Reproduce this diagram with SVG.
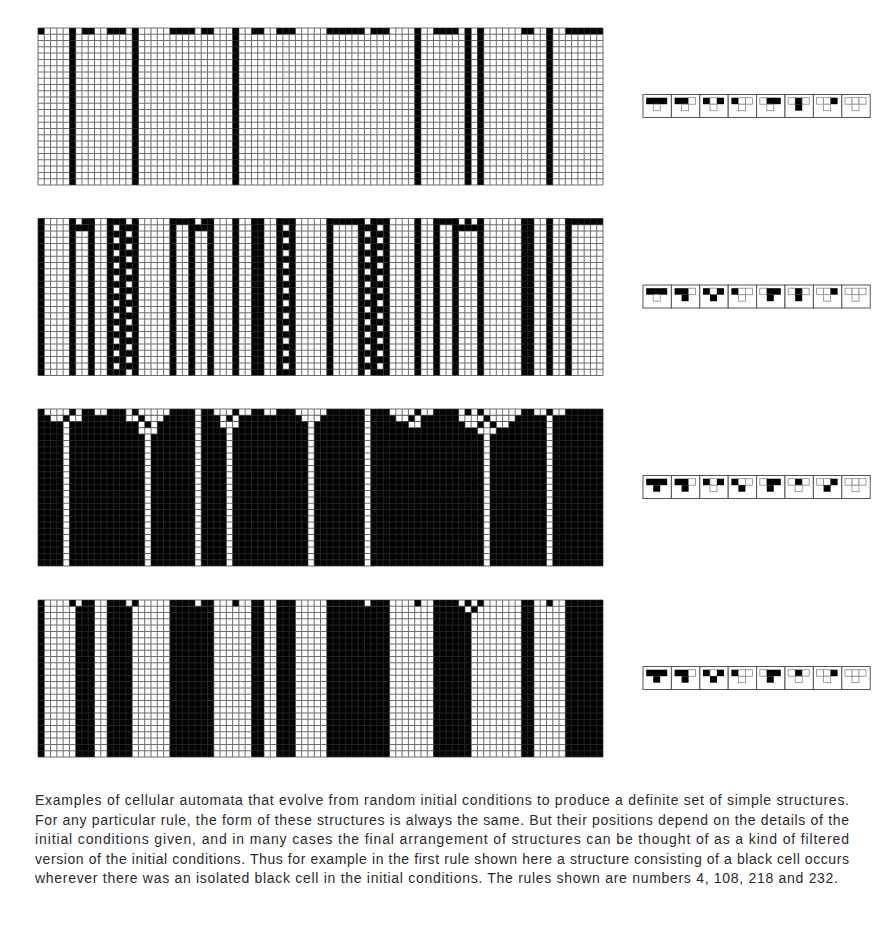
<svg xmlns="http://www.w3.org/2000/svg" xmlns:xlink="http://www.w3.org/1999/xlink" width="887" height="928" viewBox="0 0 887 928">
<style>
.b{fill:#000}
.w{fill:#fff}
.gl{fill:none;stroke:#303030;stroke-opacity:0.7;stroke-width:0.16}
.dash{stroke:#000;stroke-width:1;stroke-dasharray:1 1;fill:none}
.fr{fill:#fff;stroke:#555;stroke-width:1}
.iw{fill:#fff;stroke:#888;stroke-width:0.8}
.ib{fill:#000}
.cap{font-family:"Liberation Sans",Arial,sans-serif;font-size:14px;fill:#2b2b2b}
</style>
<defs>
<path id="grid" class="gl" d="M0 0V25M1 0V25M2 0V25M3 0V25M4 0V25M5 0V25M6 0V25M7 0V25M8 0V25M9 0V25
M10 0V25M11 0V25M12 0V25M13 0V25M14 0V25M15 0V25M16 0V25M17 0V25M18 0V25M19 0V25
M20 0V25M21 0V25M22 0V25M23 0V25M24 0V25M25 0V25M26 0V25M27 0V25M28 0V25M29 0V25
M30 0V25M31 0V25M32 0V25M33 0V25M34 0V25M35 0V25M36 0V25M37 0V25M38 0V25M39 0V25
M40 0V25M41 0V25M42 0V25M43 0V25M44 0V25M45 0V25M46 0V25M47 0V25M48 0V25M49 0V25
M50 0V25M51 0V25M52 0V25M53 0V25M54 0V25M55 0V25M56 0V25M57 0V25M58 0V25M59 0V25
M60 0V25M61 0V25M62 0V25M63 0V25M64 0V25M65 0V25M66 0V25M67 0V25M68 0V25M69 0V25
M70 0V25M71 0V25M72 0V25M73 0V25M74 0V25M75 0V25M76 0V25M77 0V25M78 0V25M79 0V25
M80 0V25M81 0V25M82 0V25M83 0V25M84 0V25M85 0V25M86 0V25M87 0V25M88 0V25M89 0V25M90 0V25
M0 0H90M0 1H90M0 2H90M0 3H90M0 4H90M0 5H90M0 6H90M0 7H90M0 8H90M0 9H90
M0 10H90M0 11H90M0 12H90M0 13H90M0 14H90M0 15H90M0 16H90M0 17H90M0 18H90M0 19H90
M0 20H90M0 21H90M0 22H90M0 23H90M0 24H90M0 25H90"/>
<g id="init" class="b">
<rect x="0" y="0" width="1" height="1"/><rect x="5" y="0" width="1" height="1"/><rect x="7" y="0" width="2" height="1"/><rect x="11" y="0" width="3" height="1"/><rect x="15" y="0" width="1" height="1"/><rect x="21" y="0" width="4" height="1"/><rect x="26" y="0" width="2" height="1"/><rect x="31" y="0" width="1" height="1"/><rect x="34" y="0" width="2" height="1"/><rect x="38" y="0" width="3" height="1"/><rect x="46" y="0" width="6" height="1"/><rect x="53" y="0" width="3" height="1"/><rect x="60" y="0" width="1" height="1"/><rect x="63" y="0" width="4" height="1"/><rect x="68" y="0" width="1" height="1"/><rect x="70" y="0" width="1" height="1"/><rect x="77" y="0" width="2" height="1"/><rect x="81" y="0" width="1" height="1"/><rect x="84" y="0" width="6" height="1"/>
</g>
<g id="tops">
<rect class="fr" x="0" y="0" width="28.4" height="23"/><rect class="fr" x="28.4" y="0" width="28.4" height="23"/><rect class="fr" x="56.8" y="0" width="28.4" height="23"/><rect class="fr" x="85.2" y="0" width="28.4" height="23"/><rect class="fr" x="113.6" y="0" width="28.4" height="23"/><rect class="fr" x="142" y="0" width="28.4" height="23"/><rect class="fr" x="170.4" y="0" width="28.4" height="23"/><rect class="fr" x="198.8" y="0" width="28.4" height="23"/>
<rect class="ib" x="3.2" y="3.2" width="21" height="6.5"/>
<rect class="ib" x="31.6" y="3.2" width="14" height="6.5"/><rect class="iw" x="45.6" y="3.2" width="7" height="6.5"/>
<rect class="ib" x="60" y="3.2" width="7" height="6.5"/><rect class="iw" x="67" y="3.2" width="7" height="6.5"/><rect class="ib" x="74" y="3.2" width="7" height="6.5"/>
<rect class="ib" x="88.4" y="3.2" width="7" height="6.5"/><rect class="iw" x="95.4" y="3.2" width="7" height="6.5"/><rect class="iw" x="102.4" y="3.2" width="7" height="6.5"/>
<rect class="iw" x="116.8" y="3.2" width="7" height="6.5"/><rect class="ib" x="123.8" y="3.2" width="14" height="6.5"/>
<rect class="iw" x="145.2" y="3.2" width="7" height="6.5"/><rect class="ib" x="152.2" y="3.2" width="7" height="6.5"/><rect class="iw" x="159.2" y="3.2" width="7" height="6.5"/>
<rect class="iw" x="173.6" y="3.2" width="7" height="6.5"/><rect class="iw" x="180.6" y="3.2" width="7" height="6.5"/><rect class="ib" x="187.6" y="3.2" width="7" height="6.5"/>
<rect class="iw" x="202" y="3.2" width="7" height="6.5"/><rect class="iw" x="209" y="3.2" width="7" height="6.5"/><rect class="iw" x="216" y="3.2" width="7" height="6.5"/>
</g>
</defs>
<rect width="887" height="928" fill="#fff"/>

<g id="grid-rule4" transform="translate(38,28) scale(6.2778)">
<rect class="w" width="90" height="25"/>
<use xlink:href="#init"/>
<g class="b">
<rect x="5" y="0" width="1" height="25"/><rect x="15" y="0" width="1" height="25"/><rect x="31" y="0" width="1" height="25"/><rect x="60" y="0" width="1" height="25"/><rect x="68" y="0" width="1" height="25"/><rect x="70" y="0" width="1" height="25"/><rect x="81" y="0" width="1" height="25"/>
</g>
<use xlink:href="#grid"/>
</g>

<g id="grid-rule108" transform="translate(38,218.5) scale(6.2778)">
<rect class="w" width="90" height="25"/>
<use xlink:href="#init"/>
<g class="b">
<rect x="5" y="1" width="4" height="1"/><rect x="13" y="1" width="3" height="1"/><rect x="24" y="1" width="4" height="1"/><rect x="51" y="1" width="3" height="1"/><rect x="66" y="1" width="5" height="1"/>
<rect x="0" y="0" width="1" height="25"/><rect x="5" y="0" width="1" height="25"/><rect x="8" y="0" width="1" height="25"/><rect x="11" y="0" width="1" height="25"/><rect x="13" y="0" width="1" height="25"/><rect x="15" y="0" width="1" height="25"/><rect x="21" y="0" width="1" height="25"/><rect x="24" y="0" width="1" height="25"/><rect x="27" y="0" width="1" height="25"/><rect x="31" y="0" width="1" height="25"/><rect x="34" y="0" width="2" height="25"/><rect x="38" y="0" width="1" height="25"/><rect x="40" y="0" width="1" height="25"/><rect x="46" y="0" width="1" height="25"/><rect x="51" y="0" width="1" height="25"/><rect x="53" y="0" width="1" height="25"/><rect x="55" y="0" width="1" height="25"/><rect x="60" y="0" width="1" height="25"/><rect x="63" y="0" width="1" height="25"/><rect x="66" y="0" width="1" height="25"/><rect x="70" y="0" width="1" height="25"/><rect x="77" y="0" width="2" height="25"/><rect x="81" y="0" width="1" height="25"/><rect x="84" y="0" width="1" height="25"/>
</g>
<line class="dash" x1="12.5" y1="2" x2="12.5" y2="25"/>
<line class="dash" x1="39.5" y1="2" x2="39.5" y2="25"/>
<line class="dash" x1="54.5" y1="2" x2="54.5" y2="25"/>
<line class="dash" x1="14.5" y1="1" x2="14.5" y2="24"/>
<line class="dash" x1="52.5" y1="1" x2="52.5" y2="24"/>
<use xlink:href="#grid"/>
</g>

<g id="grid-rule218" transform="translate(38,409) scale(6.2778)">
<rect class="b" width="90" height="25"/>
<g class="w">
<rect x="1" y="0" width="4" height="1"/><rect x="6" y="0" width="1" height="1"/><rect x="9" y="0" width="2" height="1"/><rect x="14" y="0" width="1" height="1"/><rect x="16" y="0" width="5" height="1"/><rect x="28" y="0" width="3" height="1"/><rect x="32" y="0" width="2" height="1"/><rect x="36" y="0" width="2" height="1"/><rect x="41" y="0" width="5" height="1"/><rect x="56" y="0" width="4" height="1"/><rect x="61" y="0" width="2" height="1"/><rect x="67" y="0" width="1" height="1"/><rect x="69" y="0" width="1" height="1"/><rect x="71" y="0" width="6" height="1"/><rect x="79" y="0" width="2" height="1"/><rect x="82" y="0" width="2" height="1"/>
<rect x="2" y="1" width="2" height="1"/><rect x="5" y="1" width="2" height="1"/><rect x="14" y="1" width="2" height="1"/><rect x="17" y="1" width="3" height="1"/><rect x="29" y="1" width="1" height="1"/><rect x="31" y="1" width="1" height="1"/><rect x="42" y="1" width="3" height="1"/><rect x="57" y="1" width="2" height="1"/><rect x="60" y="1" width="1" height="1"/><rect x="67" y="1" width="4" height="1"/><rect x="72" y="1" width="4" height="1"/>
<rect x="16" y="2" width="1" height="1"/><rect x="18" y="2" width="1" height="1"/><rect x="29" y="2" width="3" height="1"/><rect x="59" y="2" width="2" height="1"/><rect x="68" y="2" width="2" height="1"/><rect x="73" y="2" width="2" height="1"/>
<rect x="16" y="3" width="3" height="1"/><rect x="70" y="3" width="3" height="1"/>
<rect x="25" y="0" width="1" height="25"/><rect x="52" y="0" width="1" height="25"/><rect x="43" y="0" width="1" height="25"/><rect x="81" y="1" width="1" height="24"/><rect x="4" y="2" width="1" height="23"/><rect x="30" y="2" width="1" height="23"/><rect x="71" y="2" width="1" height="23"/><rect x="17" y="3" width="1" height="22"/>
</g>
<use xlink:href="#grid"/>
</g>

<g id="grid-rule232" transform="translate(38,600) scale(6.2778)">
<rect class="w" width="90" height="25"/>
<use xlink:href="#init"/>
<g class="b">
<rect x="0" y="1" width="1" height="24"/><rect x="6" y="1" width="3" height="24"/><rect x="11" y="1" width="4" height="24"/><rect x="21" y="1" width="7" height="24"/><rect x="34" y="1" width="2" height="24"/><rect x="38" y="1" width="3" height="24"/><rect x="46" y="1" width="10" height="24"/><rect x="63" y="1" width="5" height="24"/><rect x="77" y="1" width="2" height="24"/><rect x="84" y="1" width="6" height="24"/>
<rect x="68" y="2" width="1" height="23"/><rect x="69" y="1" width="1" height="1"/>
</g>
<use xlink:href="#grid"/>
</g>

<g id="icon-rule4" transform="translate(643,94.5)">
<use xlink:href="#tops"/>
<rect class="iw" x="10.2" y="9.7" width="7" height="6.5"/><rect class="iw" x="38.6" y="9.7" width="7" height="6.5"/><rect class="iw" x="67" y="9.7" width="7" height="6.5"/><rect class="iw" x="95.4" y="9.7" width="7" height="6.5"/><rect class="iw" x="123.8" y="9.7" width="7" height="6.5"/><rect class="ib" x="152.2" y="9.7" width="7" height="6.5"/><rect class="iw" x="180.6" y="9.7" width="7" height="6.5"/><rect class="iw" x="209" y="9.7" width="7" height="6.5"/>
</g>
<g id="icon-rule108" transform="translate(643,285)">
<use xlink:href="#tops"/>
<rect class="iw" x="10.2" y="9.7" width="7" height="6.5"/><rect class="ib" x="38.6" y="9.7" width="7" height="6.5"/><rect class="ib" x="67" y="9.7" width="7" height="6.5"/><rect class="iw" x="95.4" y="9.7" width="7" height="6.5"/><rect class="ib" x="123.8" y="9.7" width="7" height="6.5"/><rect class="ib" x="152.2" y="9.7" width="7" height="6.5"/><rect class="iw" x="180.6" y="9.7" width="7" height="6.5"/><rect class="iw" x="209" y="9.7" width="7" height="6.5"/>
</g>
<g id="icon-rule218" transform="translate(643,475.5)">
<use xlink:href="#tops"/>
<rect class="ib" x="10.2" y="9.7" width="7" height="6.5"/><rect class="ib" x="38.6" y="9.7" width="7" height="6.5"/><rect class="iw" x="67" y="9.7" width="7" height="6.5"/><rect class="ib" x="95.4" y="9.7" width="7" height="6.5"/><rect class="ib" x="123.8" y="9.7" width="7" height="6.5"/><rect class="iw" x="152.2" y="9.7" width="7" height="6.5"/><rect class="ib" x="180.6" y="9.7" width="7" height="6.5"/><rect class="iw" x="209" y="9.7" width="7" height="6.5"/>
</g>
<g id="icon-rule232" transform="translate(643,666.5)">
<use xlink:href="#tops"/>
<rect class="ib" x="10.2" y="9.7" width="7" height="6.5"/><rect class="ib" x="38.6" y="9.7" width="7" height="6.5"/><rect class="ib" x="67" y="9.7" width="7" height="6.5"/><rect class="iw" x="95.4" y="9.7" width="7" height="6.5"/><rect class="ib" x="123.8" y="9.7" width="7" height="6.5"/><rect class="iw" x="152.2" y="9.7" width="7" height="6.5"/><rect class="iw" x="180.6" y="9.7" width="7" height="6.5"/><rect class="iw" x="209" y="9.7" width="7" height="6.5"/>
</g>

<g id="caption" class="cap">
<text x="35" y="805" textLength="814" lengthAdjust="spacing">Examples of cellular automata that evolve from random initial conditions to produce a definite set of simple structures.</text>
<text x="35" y="824.5" textLength="814" lengthAdjust="spacing">For any particular rule, the form of these structures is always the same. But their positions depend on the details of the</text>
<text x="35" y="844" textLength="814" lengthAdjust="spacing">initial conditions given, and in many cases the final arrangement of structures can be thought of as a kind of filtered</text>
<text x="35" y="863.5" textLength="814" lengthAdjust="spacing">version of the initial conditions. Thus for example in the first rule shown here a structure consisting of a black cell occurs</text>
<text x="35" y="883" textLength="803" lengthAdjust="spacing">wherever there was an isolated black cell in the initial conditions. The rules shown are numbers 4, 108, 218 and 232.</text>
</g>
</svg>
